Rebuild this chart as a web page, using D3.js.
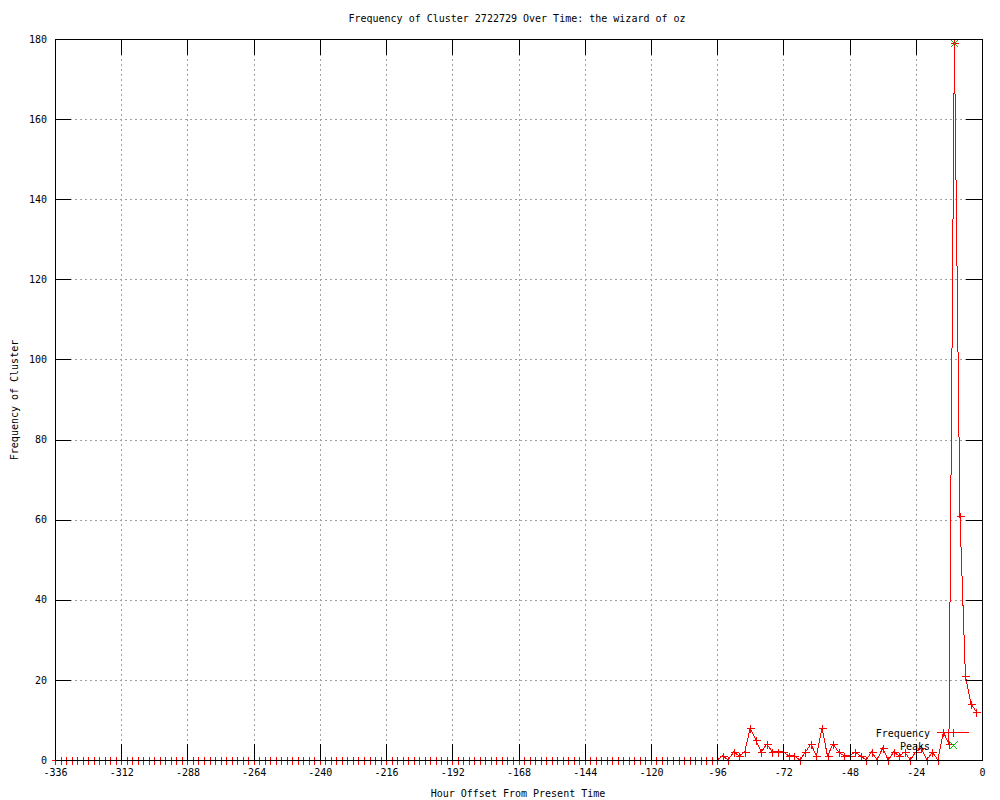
<!DOCTYPE html>
<html>
<head>
<meta charset="utf-8">
<script src="https://cdn.jsdelivr.net/npm/d3@7"></script>
<style>
  body { margin: 0; background: #fff; }
  svg { display: block; font-family: "DejaVu Sans Mono", monospace; font-size: 10px; }
  .tick text { font-family: "DejaVu Sans Mono", monospace; font-size: 10px; fill: #000; }
</style>
</head>
<body>
<svg id="canvas" width="1000" height="800"></svg>
<script>
// Data: cluster frequency every 2 hours, from -336 to -2
const hours = d3.range(-336, 0, 2);
const freq = [
  0,0,0,0,0,0,0,0,0,0,0,0,0,0,0,0,0,0,0,0,0,0,0,0,
  0,0,0,0,0,0,0,0,0,0,0,0,0,0,0,0,0,0,0,0,0,0,0,0,
  0,0,0,0,0,0,0,0,0,0,0,0,0,0,0,0,0,0,0,0,0,0,0,0,
  0,0,0,0,0,0,0,0,0,0,0,0,0,0,0,0,0,0,0,0,0,0,0,0,
  0,0,0,0,0,0,0,0,0,0,0,0,0,0,0,0,0,0,0,0,0,0,0,0,
  0,
  1,0,2,1,2,8,5,2,4,2,
  2,2,1,1,0,2,4,1,8,1,
  4,2,1,1,2,1,0,2,0,3,
  0,2,1,2,0,2,3,0,2,0,
  7,4,179,61,21,14,12
];
const peakHours = [-10];
const peakValues = [179];

const xTicks = d3.range(-336, 1, 24);
const yTicks = d3.range(0, 181, 20);

const title = "Frequency of Cluster 2722729 Over Time: the wizard of oz";
const xLabel = "Hour Offset From Present Time";
const yLabel = "Frequency of Cluster";

// Canvas and plot box
const svg = d3.select("#canvas");
const [ml, mr, mt, mb] = [55, 982, 39, 760];
const tickLen = 16;

const x = d3.scaleLinear().domain([-336, 0]).range([ml, mr]);
const y = d3.scaleLinear().domain([0, 180]).range([mb, mt]);

const fmt = (d) => String(d);

// Grid
const grid = svg.append("g").attr("shape-rendering", "crispEdges")
  .attr("stroke", "#a0a0a0").attr("stroke-dasharray", "2,3");
grid.selectAll(".gx").data(xTicks.slice(1, -1)).enter().append("line")
  .attr("x1", (d) => Math.round(x(d)) + 0.5).attr("x2", (d) => Math.round(x(d)) + 0.5)
  .attr("y1", mt).attr("y2", mb);
grid.selectAll(".gy").data(yTicks.slice(1, -1)).enter().append("line")
  .attr("y1", (d) => Math.round(y(d)) + 0.5).attr("y2", (d) => Math.round(y(d)) + 0.5)
  .attr("x1", ml).attr("x2", mr);

// Data line and markers
const pts = hours.map((h, i) => [h, freq[i]]);
const line = d3.line().x((d) => x(d[0])).y((d) => y(d[1]));

svg.append("path")
  .datum(pts)
  .attr("d", line)
  .attr("fill", "none")
  .attr("stroke", "#ff0000")
  .attr("stroke-width", 1)
  .attr("shape-rendering", "crispEdges");

const plus = (cx, cy, s) => `M${cx - s},${cy}H${cx + s}M${cx},${cy - s}V${cy + s}`;
const cross = (cx, cy, s) => `M${cx - s},${cy - s}L${cx + s},${cy + s}M${cx - s},${cy + s}L${cx + s},${cy - s}`;

svg.append("g").selectAll("path").data(pts).enter().append("path")
  .attr("d", (d) => plus(Math.round(x(d[0])) + 0.5, Math.round(y(d[1])) + 0.5, 4))
  .attr("stroke", "#ff0000").attr("fill", "none")
  .attr("shape-rendering", "crispEdges");

svg.append("g").selectAll("path").data(peakHours).enter().append("path")
  .attr("d", (d, i) => cross(Math.round(x(d)) + 0.5, Math.round(y(peakValues[i])) + 0.5, 4))
  .attr("stroke", "#00c000").attr("fill", "none")
  .attr("shape-rendering", "crispEdges");

// Axes with inward ticks on all four sides
const axisStyle = (g) => {
  g.attr("shape-rendering", "crispEdges");
  g.select(".domain").remove();
  g.selectAll(".tick line").attr("stroke", "#000");
};

svg.append("g").attr("transform", `translate(0,${mb})`)
  .call(d3.axisBottom(x).tickValues(xTicks).tickFormat(fmt).tickSize(-tickLen).tickPadding(9))
  .call(axisStyle);
svg.append("g").attr("transform", `translate(0,${mt})`)
  .call(d3.axisTop(x).tickValues(xTicks).tickFormat("").tickSize(-tickLen))
  .call(axisStyle);
svg.append("g").attr("transform", `translate(${ml},0)`)
  .call(d3.axisLeft(y).tickValues(yTicks).tickFormat(fmt).tickSize(-tickLen).tickPadding(8))
  .call(axisStyle);
svg.append("g").attr("transform", `translate(${mr},0)`)
  .call(d3.axisRight(y).tickValues(yTicks).tickFormat("").tickSize(-tickLen))
  .call(axisStyle);

// Border
svg.append("rect")
  .attr("x", ml + 0.5).attr("y", mt + 0.5)
  .attr("width", mr - ml).attr("height", mb - mt)
  .attr("fill", "none").attr("stroke", "#000")
  .attr("shape-rendering", "crispEdges");

// Legend
const legend = svg.append("g");
legend.append("text").attr("x", 930).attr("y", 733).attr("dy", "0.35em")
  .attr("text-anchor", "end").text("Frequency");
legend.append("path").attr("d", `M937,732.5H969`).attr("stroke", "#ff0000")
  .attr("shape-rendering", "crispEdges");
legend.append("path").attr("d", plus(953.5, 732.5, 4)).attr("stroke", "#ff0000")
  .attr("shape-rendering", "crispEdges");
legend.append("text").attr("x", 930).attr("y", 746).attr("dy", "0.35em")
  .attr("text-anchor", "end").text("Peaks");
legend.append("path").attr("d", cross(953.5, 745.5, 4)).attr("stroke", "#00c000")
  .attr("fill", "none").attr("shape-rendering", "crispEdges");

// Titles
svg.append("text").attr("x", 517).attr("y", 18).attr("dy", "0.35em")
  .attr("text-anchor", "middle").text(title);
svg.append("text").attr("x", 518).attr("y", 793).attr("dy", "0.35em")
  .attr("text-anchor", "middle").text(xLabel);
svg.append("text")
  .attr("transform", "translate(14,400) rotate(-90)")
  .attr("dy", "0.35em").attr("text-anchor", "middle").text(yLabel);
</script>
</body>
</html>
